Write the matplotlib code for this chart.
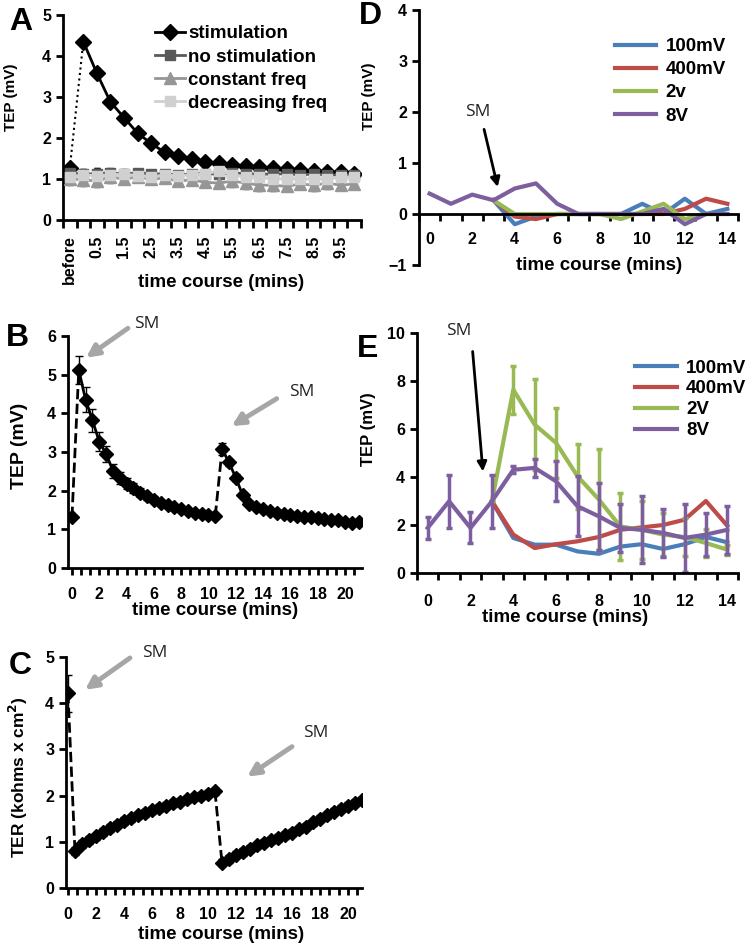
import numpy as np
import matplotlib.pyplot as plt
from matplotlib.lines import Line2D

plt.rcParams['font.family'] = ['Liberation Sans', 'DejaVu Sans']
plt.rcParams['font.weight'] = 'bold'
plt.rcParams['axes.labelweight'] = 'bold'

# ---------------- data ----------------
# panel A: categories (before, 0, 0.5 ... 10 min)
a_cats = ['before', '0', '0.5', '1', '1.5', '2', '2.5', '3', '3.5', '4', '4.5', '5',
          '5.5', '6', '6.5', '7', '7.5', '8', '8.5', '9', '9.5', '10']
a_stim = [1.26, 4.35, 3.58, 2.88, 2.5, 2.12, 1.87, 1.65, 1.55, 1.48, 1.42, 1.38,
          1.35, 1.32, 1.3, 1.27, 1.25, 1.22, 1.2, 1.18, 1.16, 1.12]
a_nostim = [1.15, 1.12, 1.13, 1.15, 1.12, 1.15, 1.13, 1.12, 1.1, 1.12, 1.13, 1.12,
            1.15, 1.13, 1.12, 1.12, 1.13, 1.1, 1.12, 1.1, 1.1, 1.1]
a_nostim_err = [0.1, 0.12, 0.15, 0.12, 0.1, 0.1, 0.08, 0.08, 0.08, 0.08, 0.08, 0.08,
                0.08, 0.08, 0.08, 0.08, 0.08, 0.08, 0.08, 0.08, 0.08, 0.08]
a_const = [1.0, 0.98, 0.95, 1.05, 1.0, 1.05, 1.0, 1.02, 0.95, 0.98, 0.92, 0.9,
           0.95, 0.9, 0.85, 0.85, 0.82, 0.88, 0.85, 0.9, 0.85, 0.88]
a_const_err = [0.15, 0.15, 0.15, 0.15, 0.12, 0.12, 0.1, 0.1, 0.08, 0.1, 0.12, 0.12,
               0.15, 0.15, 0.15, 0.15, 0.1, 0.1, 0.15, 0.15, 0.1, 0.12]
a_decr = [1.05, 1.1, 1.08, 1.1, 1.12, 1.08, 1.05, 1.1, 1.08, 1.1, 1.12, 1.2,
          1.1, 1.05, 1.05, 1.0, 1.0, 1.0, 1.0, 1.0, 1.05, 1.05]
a_decr_err = [0.12, 0.15, 0.2, 0.15, 0.12, 0.1, 0.1, 0.1, 0.1, 0.1, 0.1, 0.1,
              0.1, 0.1, 0.12, 0.12, 0.12, 0.12, 0.12, 0.12, 0.12, 0.12]
a_names = ['stimulation', 'no stimulation', 'constant freq', 'decreasing freq']

# panel B: TEP over two stimulations (0.5 min steps)
b_t1 = np.arange(0, 10.51, 0.5)
b_v1 = [1.32, 5.12, 4.35, 3.82, 3.27, 2.95, 2.52, 2.32, 2.18, 2.06, 1.95, 1.85,
        1.76, 1.69, 1.63, 1.57, 1.52, 1.47, 1.42, 1.39, 1.37, 1.35]
b_e1 = [0.05, 0.35, 0.32, 0.3, 0.25, 0.2, 0.18, 0.15, 0.14, 0.13, 0.12, 0.1,
        0.09, 0.08, 0.07, 0.06, 0.05, 0.05, 0.05, 0.04, 0.04, 0.04]
b_t2 = np.arange(11, 21.01, 0.5)
b_v2 = [3.08, 2.73, 2.34, 1.89, 1.66, 1.58, 1.52, 1.47, 1.43, 1.4, 1.37, 1.35,
        1.33, 1.31, 1.29, 1.27, 1.25, 1.23, 1.2, 1.17, 1.18]
b_e2 = [0.15, 0.1, 0.1, 0.08, 0.06, 0.05, 0.05, 0.05, 0.04, 0.04, 0.04, 0.04,
        0.04, 0.04, 0.04, 0.04, 0.04, 0.04, 0.04, 0.04, 0.04]

# panel C: TER
c_t0 = [0.0]
c_v0 = [4.22]
c_e0 = [0.4]
c_t1 = np.arange(0.5, 10.51, 0.5)
c_v1 = [0.8, 0.95, 1.04, 1.12, 1.21, 1.3, 1.37, 1.45, 1.51, 1.57, 1.62, 1.68,
        1.73, 1.78, 1.83, 1.87, 1.92, 1.96, 2.0, 2.04, 2.09]
c_t2 = np.arange(11, 21.01, 0.5)
c_v2 = [0.55, 0.63, 0.72, 0.78, 0.85, 0.92, 0.98, 1.03, 1.08, 1.14, 1.2, 1.27,
        1.33, 1.42, 1.5, 1.57, 1.65, 1.72, 1.78, 1.85, 1.9]
c_err = 0.08

# panel D
d_x = np.arange(15)
d_names = ['100mV', '400mV', '2v', '8V']
d_100 = [np.nan, np.nan, np.nan, 0.27, -0.2, -0.05, 0, 0, 0, 0, 0.2, 0, 0.3, 0, 0.1]
d_400 = [np.nan, np.nan, np.nan, 0.27, -0.05, -0.1, 0, 0, 0, 0, 0, 0, 0.1, 0.3, 0.2]
d_2v = [np.nan, np.nan, np.nan, 0.27, 0, 0, 0, 0, 0, -0.1, 0.05, 0.2, -0.1, 0, 0]
d_8v = [0.4, 0.2, 0.38, 0.27, 0.5, 0.6, 0.2, 0, 0, 0, 0, 0.1, -0.2, 0, 0]

# panel E
e_x = np.arange(15)
e_names = ['100mV', '400mV', '2V', '8V']
e_100 = [np.nan, np.nan, np.nan, 2.99, 1.46, 1.18, 1.18, 0.9, 0.8, 1.1, 1.2, 1.0, 1.2, 1.5, 1.28]
e_400 = [np.nan, np.nan, np.nan, 2.99, 1.6, 1.04, 1.2, 1.32, 1.5, 1.8, 1.9, 2.0, 2.22, 3.0, 1.97]
e_2v = [np.nan, np.nan, np.nan, 2.99, 7.64, 6.18, 5.42, 4.03, 3.06, 1.94, 1.8, 1.6, 1.5, 1.25, 0.97]
e_2v_err = [0, 0, 0, 0, 1.0, 1.9, 1.45, 1.35, 2.1, 1.4, 1.2, 0.9, 0.8, 0.6, 0.2]
e_8v = [1.88, 2.99, 1.88, 2.99, 4.3, 4.38, 3.82, 2.78, 2.36, 1.88, 1.8, 1.67, 1.46, 1.6, 1.8]
e_8v_err = [0.45, 1.1, 0.65, 1.1, 0.15, 0.38, 0.83, 1.25, 1.4, 1.0, 1.4, 1.0, 1.4, 0.9, 1.0]

line_colors = ['#4a7ebb', '#be4b48', '#98b954', '#7d5fa0']

# ---------------- layout ----------------
W, H = 747, 951
fig = plt.figure(figsize=(W / 100, H / 100), dpi=100)


def add_ax(l, t, r, b):
    return fig.add_axes([l / W, 1 - b / H, (r - l) / W, (b - t) / H])


def style(ax):
    for s in ['top', 'right']:
        ax.spines[s].set_visible(False)
    for s in ['left', 'bottom']:
        ax.spines[s].set_linewidth(2)
    ax.tick_params(which='both', width=2, length=5, labelsize=11.5, direction='out')


sm_font = dict(family='Open Sans', fontweight='normal', fontsize=12.5, color='#222222')
gray_arrow = dict(arrowstyle='-|>', lw=3.5, color='#a6a6a6', mutation_scale=18,
                  shrinkA=0, shrinkB=0)
black_arrow = dict(arrowstyle='-|>', lw=2, color='black', mutation_scale=14,
                   shrinkA=0, shrinkB=0)

# ---------------- A ----------------
axA = add_ax(63, 15, 361, 220)
style(axA)
xa = np.arange(len(a_cats))
for vals, err in [(a_nostim, a_nostim_err), (a_const, a_const_err), (a_decr, a_decr_err)]:
    axA.errorbar(xa, vals, yerr=err, fmt='none', ecolor='#222222', elinewidth=0.9,
                 capsize=2.5, zorder=1)
axA.plot(xa[:2], a_stim[:2], color='black', lw=1.5, ls=':', zorder=2)
axA.plot(xa[1:], a_stim[1:], color='black', lw=2, zorder=3)
axA.plot(xa, a_stim, ls='none', marker='D', ms=8, color='black', zorder=3)
axA.plot(xa, a_nostim, color='#595959', lw=2, marker='s', ms=7, zorder=4)
axA.plot(xa, a_const, color='#969696', lw=2, marker='^', ms=8, zorder=5)
axA.plot(xa, a_decr, color='#d0d0d0', lw=2, marker='s', ms=7, zorder=6)
axA.set_xlim(-0.5, len(a_cats) - 0.5)
axA.set_ylim(0, 5)
axA.set_yticks([0, 1, 2, 3, 4, 5])
axA.set_xticks(xa[::2])
axA.set_xticklabels(['before'] + [a_cats[i] for i in xa[2::2]], rotation=90)
axA.set_xticks(np.arange(-0.5, len(a_cats), 1), minor=True)
axA.tick_params(axis='x', which='major', length=0, pad=11)
axA.tick_params(axis='x', which='minor', length=6)
axA.set_ylabel('TEP (mV)', fontsize=11)
axA.yaxis.set_label_coords(-0.15, 0.6)
axA.set_xlabel('time course (mins)', fontsize=13.5)
axA.xaxis.set_label_coords(0.53, -0.265)
handles = [
    Line2D([], [], color='black', lw=2, marker='D', ms=8),
    Line2D([], [], color='#595959', lw=2, marker='s', ms=7),
    Line2D([], [], color='#969696', lw=2, marker='^', ms=8),
    Line2D([], [], color='#d0d0d0', lw=2, marker='s', ms=7),
]
axA.legend(handles, a_names, loc='upper left', bbox_to_anchor=(0.31, 0.95), frameon=False,
           fontsize=13.5, handlelength=1.6, handletextpad=0.15, labelspacing=0.32,
           borderpad=0, borderaxespad=0, numpoints=1)

# ---------------- B ----------------
axB = add_ax(68, 336, 362, 568)
style(axB)
axB.errorbar(b_t1, b_v1, yerr=b_e1, fmt='none', ecolor='black', elinewidth=1, capsize=3)
axB.errorbar(b_t2, b_v2, yerr=b_e2, fmt='none', ecolor='black', elinewidth=1, capsize=3)
axB.plot([b_t1[0], b_t1[1]], [b_v1[0], b_v1[1]], color='black', lw=2, ls='--')
axB.plot(b_t1[1:], b_v1[1:], color='black', lw=2)
axB.plot([b_t1[-1], b_t2[0]], [b_v1[-1], b_v2[0]], color='black', lw=2, ls='--')
axB.plot(b_t2, b_v2, color='black', lw=2)
axB.plot(b_t1, b_v1, ls='none', marker='D', ms=7, color='black')
axB.plot(b_t2, b_v2, ls='none', marker='D', ms=7, color='black')
axB.set_xlim(-0.29, 21.25)
axB.set_ylim(0, 6)
axB.set_yticks(range(7))
axB.set_xticks(range(0, 21, 2))
axB.set_xticks(np.arange(0, 21.3, 2 / 3), minor=True)
axB.tick_params(axis='x', which='both', pad=9)
axB.set_ylabel('TEP (mV)', fontsize=14)
axB.yaxis.set_label_coords(-0.135, 0.526)
axB.set_xlabel('time course (mins)', fontsize=13.5)
axB.xaxis.set_label_coords(0.5, -0.148)
axB.annotate('', xy=(1.03, 5.44), xytext=(4.1, 6.2), arrowprops=gray_arrow, annotation_clip=False)
axB.text(5.5, 6.3, 'SM', ha='center', va='center', **sm_font)
axB.annotate('', xy=(11.7, 3.67), xytext=(15.0, 4.38), arrowprops=gray_arrow, annotation_clip=False)
axB.text(16.8, 4.56, 'SM', ha='center', va='center', **sm_font)

# ---------------- C ----------------
axC = add_ax(66, 657, 362, 888)
style(axC)
axC.errorbar(c_t0, c_v0, yerr=c_e0, fmt='none', ecolor='black', elinewidth=1, capsize=3)
axC.errorbar(c_t1, c_v1, yerr=c_err, fmt='none', ecolor='black', elinewidth=1, capsize=3)
axC.errorbar(c_t2, c_v2, yerr=c_err, fmt='none', ecolor='black', elinewidth=1, capsize=3)
axC.plot([c_t0[0], c_t1[0]], [c_v0[0], c_v1[0]], color='black', lw=2, ls='--')
axC.plot(c_t1, c_v1, color='black', lw=2)
axC.plot([c_t1[-1], c_t2[0]], [c_v1[-1], c_v2[0]], color='black', lw=2, ls='--')
axC.plot(c_t2, c_v2, color='black', lw=2)
for tt, vv in [(c_t0, c_v0), (c_t1, c_v1), (c_t2, c_v2)]:
    axC.plot(tt, vv, ls='none', marker='D', ms=7, color='black')
axC.set_xlim(-0.14, 21.0)
axC.set_ylim(0, 5)
axC.set_yticks(range(6))
axC.set_xticks(range(0, 21, 2))
axC.set_xticks(np.arange(0, 21.1, 2 / 3), minor=True)
axC.tick_params(axis='x', which='both', pad=9)
axC.set_ylabel('TER (kohms x cm$^\\mathbf{2}$)', fontsize=12.5)
axC.yaxis.set_label_coords(-0.12, 0.48)
axC.set_xlabel('time course (mins)', fontsize=13.5)
axC.xaxis.set_label_coords(0.524, -0.165)
axC.annotate('', xy=(1.22, 4.29), xytext=(4.43, 4.98), arrowprops=gray_arrow, annotation_clip=False)
axC.text(6.2, 5.09, 'SM', ha='center', va='center', **sm_font)
axC.annotate('', xy=(12.8, 2.41), xytext=(16.0, 3.06), arrowprops=gray_arrow, annotation_clip=False)
axC.text(17.7, 3.36, 'SM', ha='center', va='center', **sm_font)

# ---------------- D ----------------
axD = add_ax(419, 10, 738, 265)
style(axD)
axD.spines['bottom'].set_position(('data', 0))
for vals, col, name in zip([d_100, d_400, d_2v, d_8v], line_colors, d_names):
    axD.plot(d_x, vals, color=col, lw=3, label=name)
axD.set_xlim(-0.5, 14.5)
axD.set_ylim(-1, 4)
axD.set_yticks(range(-1, 5))
axD.set_xticks(range(0, 15, 2))
axD.set_xticks(np.arange(-0.5, 15, 1), minor=True)
axD.tick_params(axis='x', which='major', length=0, pad=13)
axD.tick_params(axis='x', which='minor', length=5)
axD.set_ylabel('TEP (mV)', fontsize=11)
axD.yaxis.set_label_coords(-0.135, 0.66)
axD.set_xlabel('time course (mins)', fontsize=13.5)
axD.xaxis.set_label_coords(0.564, 0.03)
axD.legend(loc='upper left', bbox_to_anchor=(0.615, 0.89), frameon=False, fontsize=13.5,
           handlelength=2.2, handletextpad=0.5, labelspacing=0.32, borderpad=0, borderaxespad=0)
axD.annotate('', xy=(3.2, 0.53), xytext=(2.56, 1.66), arrowprops=black_arrow)
axD.text(2.27, 2.0, 'SM', ha='center', va='center', **sm_font)

# ---------------- E ----------------
axE = add_ax(417, 333, 738, 573)
style(axE)
e_series = [e_100, e_400, e_2v, e_8v]
e_errs = [None, None, e_2v_err, e_8v_err]
for vals, err, col, name in zip(e_series, e_errs, line_colors, e_names):
    if err is not None:
        axE.errorbar(e_x, vals, yerr=err, fmt='none', ecolor=col, elinewidth=2.5,
                     capsize=2.5, capthick=2.5)
    axE.plot(e_x, vals, color=col, lw=3, label=name)
axE.set_xlim(-0.5, 14.5)
axE.set_ylim(0, 10)
axE.set_yticks(range(0, 11, 2))
axE.set_xticks(range(0, 15, 2))
axE.set_xticks(np.arange(-0.5, 15, 1), minor=True)
axE.tick_params(axis='x', which='major', length=0, pad=15)
axE.tick_params(axis='x', which='minor', length=5)
axE.set_ylabel('TEP (mV)', fontsize=12)
axE.yaxis.set_label_coords(-0.127, 0.6)
axE.set_xlabel('time course (mins)', fontsize=13.5)
axE.xaxis.set_label_coords(0.46, -0.15)
axE.legend(loc='upper left', bbox_to_anchor=(0.68, 0.89), frameon=False, fontsize=13.5,
           handlelength=2.2, handletextpad=0.5, labelspacing=0.2, borderpad=0, borderaxespad=0)
axE.annotate('', xy=(2.58, 4.23), xytext=(2.1, 9.23), arrowprops=black_arrow, annotation_clip=False)
axE.text(1.45, 10.07, 'SM', ha='center', va='center', **sm_font)

# ---------------- panel letters ----------------
for letter, px, py in [('A', 21, 22), ('B', 17, 338), ('C', 20, 666), ('D', 370, 16), ('E', 368, 349)]:
    fig.text(px / W, 1 - py / H, letter, fontsize=23, fontweight='bold', ha='center', va='center')

fig.savefig('out.png', dpi=100)
